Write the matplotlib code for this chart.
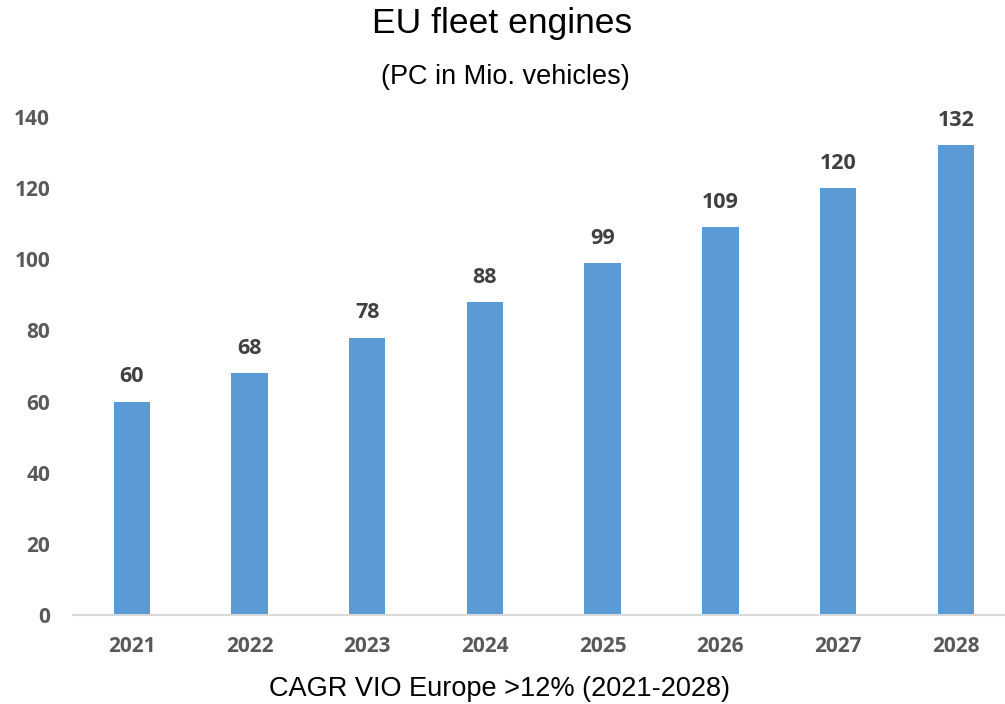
import matplotlib.pyplot as plt
import numpy as np

years = ["2021", "2022", "2023", "2024", "2025", "2026", "2027", "2028"]
fleet = [60, 68, 78, 88, 99, 109, 120, 132]
yticks = [0, 20, 40, 60, 80, 100, 120, 140]

W, H = 1005, 704
fig = plt.figure(figsize=(W / 100, H / 100), dpi=100)
# axes placed in pixels: left 73, bottom 615, top 117 (=140)
ax = fig.add_axes([73 / W, 1 - 615 / H, (W - 73) / W, (615 - 117) / H])

x = np.arange(len(years))
ax.bar(x, fleet, width=0.31, color="#5b9bd5", zorder=2)
for xi, v in zip(x, fleet):
    ax.text(xi, v + 4, str(v), ha="center", va="bottom", fontsize=15.5,
            fontweight="bold", color="#404040", family="Open Sans")

ax.set_ylim(0, 140)
# spacing ~117.7 px per category, left edge at -0.5
ax.set_xlim(-0.5, -0.5 + (W - 73) / 117.7)
ax.set_yticks(yticks)
ax.set_xticks(x)
ax.set_xticklabels(years)

for s in ["top", "right", "left"]:
    ax.spines[s].set_visible(False)
ax.spines["bottom"].set_color("#d9d9d9")
ax.spines["bottom"].set_linewidth(1.5)
ax.tick_params(axis="both", length=0, labelsize=15, labelcolor="#595959")
ax.tick_params(axis="y", pad=16.5)
ax.tick_params(axis="x", pad=15)
for lab in ax.get_xticklabels() + ax.get_yticklabels():
    lab.set_fontweight("bold")
    lab.set_family("Open Sans")

fig.text(0.5, 1 - 24 / H, "EU fleet engines", ha="center", va="center",
         fontsize=25.5, color="black", family="Liberation Sans")
fig.text(0.503, 1 - 77 / H, "(PC in Mio. vehicles)", ha="center", va="center",
         fontsize=19.5, color="black", family="Liberation Sans")
fig.text(0.497, 1 - 689 / H, "CAGR VIO Europe >12% (2021-2028)", ha="center",
         va="center", fontsize=19.5, color="black", family="Liberation Sans")

plt.savefig("out.png", dpi=100)
